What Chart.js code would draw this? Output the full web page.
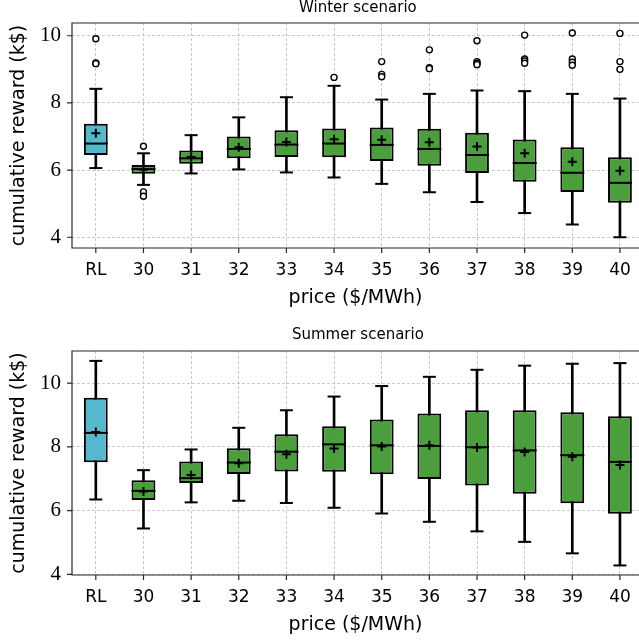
<!DOCTYPE html>
<html>
<head>
<meta charset="utf-8">
<script src="https://cdn.jsdelivr.net/npm/chart.js@4.4.0/dist/chart.umd.min.js"></script>
<style>
html, body { margin: 0; padding: 0; background: #fff; }
canvas { position: absolute; left: 0; }
</style>
</head>
<body>
<canvas id="winterChartCanvas" width="639" height="320" style="top:0"></canvas>
<canvas id="summerChartCanvas" width="639" height="321" style="top:320px"></canvas>
<script>
const categories = ['RL', '30', '31', '32', '33', '34', '35', '36', '37', '38', '39', '40'];
const yTicks = [4, 6, 8, 10];

// winter scenario
const winterLow = [6.06, 5.56, 5.90, 6.02, 5.93, 5.78, 5.59, 5.34, 5.05, 4.72, 4.38, 4.00];
const winterQ1 = [6.45, 5.89, 6.19, 6.35, 6.39, 6.38, 6.27, 6.13, 5.91, 5.65, 5.35, 5.03];
const winterMedian = [6.79, 6.03, 6.35, 6.63, 6.76, 6.79, 6.75, 6.63, 6.45, 6.21, 5.92, 5.62];
const winterQ3 = [7.38, 6.15, 6.58, 7.00, 7.19, 7.24, 7.27, 7.23, 7.11, 6.91, 6.68, 6.38];
const winterHigh = [8.42, 6.50, 7.04, 7.57, 8.17, 8.51, 8.10, 8.27, 8.37, 8.35, 8.27, 8.13];
const winterMean = [7.10, 6.01, 6.39, 6.68, 6.84, 6.92, 6.90, 6.83, 6.70, 6.50, 6.25, 5.98];
const winterOutliers = [
    [9.91, 9.19, 9.17], [6.71, 5.35, 5.22], [], [], [], [8.76],
    [9.23, 8.85, 8.78], [9.58, 9.05, 9.02], [9.85, 9.23, 9.18, 9.14],
    [10.02, 9.31, 9.25, 9.18], [10.08, 9.31, 9.21, 9.12], [10.07, 9.23, 9.00]
];

// summer scenario
const summerLow = [6.35, 5.44, 6.26, 6.31, 6.24, 6.09, 5.91, 5.65, 5.35, 5.02, 4.66, 4.28];
const summerQ1 = [7.52, 6.33, 6.87, 7.15, 7.23, 7.22, 7.14, 6.99, 6.79, 6.53, 6.23, 5.90];
const summerMedian = [8.44, 6.62, 7.02, 7.51, 7.85, 8.08, 8.05, 8.03, 7.99, 7.89, 7.74, 7.53];
const summerQ3 = [9.54, 6.95, 7.54, 7.96, 8.40, 8.65, 8.86, 9.05, 9.15, 9.15, 9.09, 8.96];
const summerHigh = [10.70, 7.27, 7.92, 8.60, 9.15, 9.58, 9.91, 10.20, 10.42, 10.55, 10.61, 10.63];
const summerMean = [8.47, 6.60, 7.12, 7.49, 7.77, 7.95, 8.01, 8.05, 7.98, 7.84, 7.69, 7.43];
const summerOutliers = [[], [], [], [], [], [], [], [], [], [], [], []];

const rlColor = '#56b8cd';
const priceColor = '#4a9e3c';
const gridColor = '#bdbdbd';
const frameColor = '#262626';

const framePlugin = {
    id: 'frame',
    afterDraw(chart, args, opts) {
        const {ctx, chartArea: a, scales: {x, y}} = chart;
        ctx.save();
        ctx.strokeStyle = frameColor;
        ctx.lineWidth = 1.2;
        ctx.beginPath();
        ctx.moveTo(a.right, a.top);
        ctx.lineTo(a.left, a.top);
        ctx.lineTo(a.left, a.bottom);
        ctx.lineTo(a.right, a.bottom);
        // tick marks
        categories.forEach((c, i) => {
            const px = x.getPixelForValue(i);
            ctx.moveTo(px, a.bottom);
            ctx.lineTo(px, a.bottom + 5);
        });
        yTicks.forEach(v => {
            const py = y.getPixelForValue(v);
            ctx.moveTo(a.left - 5, py);
            ctx.lineTo(a.left, py);
        });
        ctx.stroke();
        // title over the axes
        ctx.fillStyle = '#000';
        ctx.font = '15px "DejaVu Sans"';
        ctx.textAlign = 'center';
        ctx.textBaseline = 'middle';
        ctx.fillText(opts.text, x.getPixelForValue(5.5), opts.y);
        ctx.restore();
    }
};

function makeBoxChart(canvasId, title, low, q1, median, q3, high, mean, outliers, cfg) {
    const pts = arr => arr.map((v, i) => ({x: i, y: v}));
    const outlierPts = [];
    outliers.forEach((list, i) => list.forEach(v => outlierPts.push({x: i, y: v})));
    const ctx = document.getElementById(canvasId).getContext('2d');
    return new Chart(ctx, {
        type: 'bar',
        data: {
            datasets: [{
                label: 'whisker',
                data: low.map((v, i) => ({x: i, y: [v, high[i]]})),
                backgroundColor: '#000',
                barThickness: 2,
                grouped: false,
                order: 5
            }, {
                label: 'box',
                data: q1.map((v, i) => ({x: i, y: [v, q3[i]]})),
                backgroundColor: categories.map((c, i) => i === 0 ? rlColor : priceColor),
                borderColor: '#000',
                borderWidth: 2,
                borderSkipped: false,
                barPercentage: 0.5,
                categoryPercentage: 1,
                grouped: false,
                order: 4
            }, {
                type: 'scatter',
                label: 'caps',
                data: pts(low).concat(pts(high)),
                pointStyle: 'line',
                radius: 6.5,
                borderColor: '#000',
                borderWidth: 2,
                order: 3
            }, {
                type: 'scatter',
                label: 'median',
                data: pts(median),
                pointStyle: 'line',
                radius: 12,
                borderColor: '#000',
                borderWidth: 2,
                order: 2
            }, {
                type: 'scatter',
                label: 'mean',
                data: pts(mean),
                pointStyle: 'cross',
                radius: 4.5,
                borderColor: '#000',
                borderWidth: 2,
                order: 1
            }, {
                type: 'scatter',
                label: 'outliers',
                data: outlierPts,
                pointStyle: 'circle',
                radius: 3,
                backgroundColor: '#fff',
                borderColor: '#000',
                borderWidth: 1.4,
                order: 0
            }]
        },
        options: {
            responsive: false,
            animation: false,
            events: [],
            layout: {autoPadding: false, padding: {top: cfg.top, right: 0, left: 0, bottom: 0}},
            plugins: {
                legend: {display: false},
                tooltip: {enabled: false},
                frame: {text: title, y: cfg.titleY}
            },
            scales: {
                x: {
                    type: 'linear',
                    min: -0.5,
                    max: 11.4,
                    offset: false,
                    afterBuildTicks: s => { s.ticks = categories.map((c, i) => ({value: i})); },
                    afterFit: s => {
                        s.height = cfg.xHeight;
                        s.paddingLeft = 0;
                        s.paddingRight = 0;
                    },
                    ticks: {
                        callback: v => categories[v],
                        autoSkip: false,
                        maxRotation: 0,
                        padding: 12,
                        color: '#000',
                        font: {family: 'DejaVu Sans', size: 17}
                    },
                    grid: {color: gridColor, lineWidth: 0.8, drawTicks: false, offset: false},
                    border: {display: false, dash: [3, 2]},
                    title: {
                        display: true,
                        text: 'price ($/MWh)',
                        color: '#000',
                        font: {family: 'DejaVu Sans', size: 19},
                        padding: {top: 0, bottom: cfg.xTitlePad}
                    }
                },
                y: {
                    min: cfg.yMin,
                    max: cfg.yMax,
                    afterBuildTicks: s => { s.ticks = yTicks.map(v => ({value: v})); },
                    afterFit: s => {
                        s.width = 72;
                        s.paddingTop = 0;
                        s.paddingBottom = 0;
                    },
                    ticks: {
                        padding: 11,
                        color: '#000',
                        font: {family: 'Liberation Serif', size: 21}
                    },
                    grid: {color: gridColor, lineWidth: 0.8, drawTicks: false},
                    border: {display: false, dash: [3, 2]},
                    title: {
                        display: true,
                        text: 'cumulative reward (k$)',
                        color: '#000',
                        font: {family: 'DejaVu Sans', size: 19},
                        padding: {top: 8, bottom: 0}
                    }
                }
            }
        },
        plugins: [framePlugin]
    });
}

const winterChart = makeBoxChart('winterChartCanvas', 'Winter scenario',
    winterLow, winterQ1, winterMedian, winterQ3, winterHigh, winterMean, winterOutliers,
    {top: 23, titleY: 8, xHeight: 72, xTitlePad: 10.6, yMin: 3.68, yMax: 10.38});

const summerChart = makeBoxChart('summerChartCanvas', 'Summer scenario',
    summerLow, summerQ1, summerMedian, summerQ3, summerHigh, summerMean, summerOutliers,
    {top: 31, titleY: 15, xHeight: 66, xTitlePad: 4.6, yMin: 3.98, yMax: 11.01});
</script>
</body>
</html>
